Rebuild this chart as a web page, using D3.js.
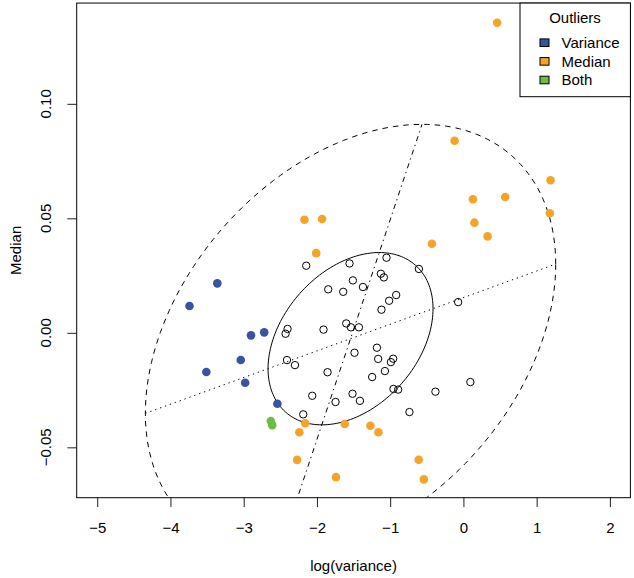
<!DOCTYPE html>
<html>
<head>
<meta charset="utf-8">
<script src="https://cdn.jsdelivr.net/npm/d3@7"></script>
<style>
  html, body { margin: 0; padding: 0; background: #fff; }
  svg { display: block; font-family: "Liberation Sans", Arial, Helvetica, sans-serif; }
</style>
</head>
<body>
<svg id="chart" width="634" height="578"></svg>
<script>
// ---------------- data ----------------
const varianceX = [-3.36, -3.74, -2.72, -2.90, -3.04, -3.51, -2.98, -2.54];
const varianceY = [0.0216, 0.0117, 0.0002, -0.0011, -0.0119, -0.0171, -0.0218, -0.0310];

const medianX = [-2.16, -2.24, -1.62, -1.27, -1.16, -2.27, -0.61, -1.74, -0.54,
                 -0.12, 1.19, 0.57, 0.13, -2.17, -1.93, 1.18, 0.15, 0.33, -2.01, -0.43, 0.46];
const medianY = [-0.0395, -0.0434, -0.0398, -0.0406, -0.0434, -0.0555, -0.0554, -0.0630, -0.0640,
                 0.0839, 0.0666, 0.0593, 0.0583, 0.0494, 0.0497, 0.0522, 0.0481, 0.0421, 0.0348, 0.0389, 0.1354];

const bothX = [-2.63, -2.61];
const bothY = [-0.0385, -0.0403];

const normalX = [-2.146, -1.555, -1.050, -0.608, -1.127, -1.086, -1.509, -1.846, -1.641, -1.372,
                 -0.918, -1.014, -1.119, -2.401, -2.428, -1.910, -1.600, -1.536, -1.427, -1.181,
                 -1.487, -1.164, -0.959, -0.990, -2.409, -2.300, -1.072, -1.855, -1.246, -0.955,
                 -0.891, -0.382, -1.514, -2.064, -1.413, -1.746, -0.737, -2.187, -0.072, 0.095];
const normalY = [0.0293, 0.0303, 0.0328, 0.0279, 0.0258, 0.0242, 0.0229, 0.0190, 0.0179, 0.0200,
                 0.0165, 0.0140, 0.0101, 0.0017, -0.0004, 0.0014, 0.0041, 0.0024, 0.0024, -0.0065,
                 -0.0087, -0.0114, -0.0113, -0.0128, -0.0119, -0.0141, -0.0167, -0.0172, -0.0193, -0.0245,
                 -0.0248, -0.0257, -0.0266, -0.0275, -0.0297, -0.0302, -0.0346, -0.0356, 0.0134, -0.0215];

// concentration ellipse: centre, sd's, correlation, inner/outer size
const ellipseCenter = [-1.541, -0.00256];
const ellipseSD = [2.8015, 0.0936];
const ellipseRho = 0.3483;
const ellipseSizes = [0.402, 1.0];

const xTicks = [-5, -4, -3, -2, -1, 0, 1, 2];
const yTicks = [-0.05, 0, 0.05, 0.10];
const legendLabels = ["Variance", "Median", "Both"];
const legendColors = ["#3953a3", "#f6a328", "#6bbd46"];

// ---------------- layout ----------------
const svg = d3.select("#chart");
const L = 76.7, R = 630.4, T = 3.06, B = 497.7;
const x = d3.scaleLinear().domain([-5.28, 2.28]).range([L, R]);
const y = d3.scaleLinear().domain([-0.072, 0.144]).range([B, T]);
const fmtMinus = s => s.replace("-", "\u2212");

svg.append("defs").append("clipPath").attr("id", "clip")
  .append("rect").attr("x", L).attr("y", T).attr("width", R - L).attr("height", B - T);

// axes
const xAxis = d3.axisBottom(x).tickValues(xTicks).tickSize(9.35).tickPadding(15.5)
  .tickFormat(d => fmtMinus(d3.format("d")(d)));
const gx = svg.append("g").attr("transform", `translate(0,${B})`).call(xAxis);
gx.select(".domain").remove();
gx.selectAll("line").attr("stroke", "#222");
gx.selectAll("text").attr("font-size", 15).attr("fill", "#000")
  .attr("font-family", "Liberation Sans, Arial, sans-serif");

const yAxis = d3.axisLeft(y).tickValues(yTicks).tickSize(9.35).tickFormat("");
const gy = svg.append("g").attr("transform", `translate(${L},0)`).call(yAxis);
gy.select(".domain").remove();
gy.selectAll("line").attr("stroke", "#222");
svg.append("g").selectAll("text").data(yTicks).join("text")
  .attr("transform", d => `translate(51,${y(d)}) rotate(-90)`)
  .attr("text-anchor", "middle").attr("font-size", 15)
  .text(d => fmtMinus(d3.format(".2f")(d)));

// axis titles
svg.append("text").attr("x", (L + R) / 2).attr("y", 571).attr("text-anchor", "middle")
  .attr("font-size", 15).text("log(variance)");
svg.append("text").attr("transform", `translate(21,${(T + B) / 2}) rotate(-90)`)
  .attr("text-anchor", "middle").attr("font-size", 15).text("Median");

// ellipses & regression lines
const ge = svg.append("g").attr("clip-path", "url(#clip)");
const line = d3.line().x(d => x(d[0])).y(d => y(d[1]));
const sq = Math.sqrt(1 - ellipseRho * ellipseRho);
const ts = d3.range(0, 361, 2).map(a => a * Math.PI / 180);
ellipseSizes.forEach((k, i) => {
  const pts = ts.map(t => [
    ellipseCenter[0] + k * ellipseSD[0] * Math.cos(t),
    ellipseCenter[1] + k * ellipseSD[1] * (ellipseRho * Math.cos(t) + sq * Math.sin(t))
  ]);
  ge.append("path").attr("d", line(pts)).attr("fill", "none").attr("stroke", "#000")
    .attr("stroke-width", 1).attr("stroke-dasharray", i === 1 ? "5.5,5" : null);
});
const vA = [ellipseSD[0], ellipseSD[1] * ellipseRho];
const hA = [ellipseSD[0] * ellipseRho, ellipseSD[1]];
ge.append("path").attr("d", line([[ellipseCenter[0] - vA[0], ellipseCenter[1] - vA[1]],
                                  [ellipseCenter[0] + vA[0], ellipseCenter[1] + vA[1]]]))
  .attr("stroke", "#000").attr("stroke-width", 1).attr("stroke-dasharray", "1.3,3.9");
ge.append("path").attr("d", line([[ellipseCenter[0] - hA[0], ellipseCenter[1] - hA[1]],
                                  [ellipseCenter[0] + hA[0], ellipseCenter[1] + hA[1]]]))
  .attr("stroke", "#000").attr("stroke-width", 1).attr("stroke-dasharray", "1.3,3.9,5.2,3.9");

// points
const zipXY = (xs, ys) => xs.map((v, i) => [v, ys[i]]);
svg.append("g").selectAll("circle").data(zipXY(normalX, normalY)).join("circle")
  .attr("cx", d => x(d[0])).attr("cy", d => y(d[1])).attr("r", 3.7)
  .attr("fill", "none").attr("stroke", "#000").attr("stroke-width", 1);
[[varianceX, varianceY, 0], [medianX, medianY, 1], [bothX, bothY, 2]].forEach(([xs, ys, c]) => {
  svg.append("g").selectAll("circle").data(zipXY(xs, ys)).join("circle")
    .attr("cx", d => x(d[0])).attr("cy", d => y(d[1])).attr("r", 4.3)
    .attr("fill", legendColors[c]);
});

// box
svg.append("rect").attr("x", L).attr("y", T).attr("width", R - L).attr("height", B - T)
  .attr("fill", "none").attr("stroke", "#000").attr("stroke-width", 1);

// legend
const lg = svg.append("g");
lg.append("rect").attr("x", 520).attr("y", T).attr("width", R - 520).attr("height", 96.7 - T)
  .attr("fill", "#fff").attr("stroke", "#000").attr("stroke-width", 1);
lg.append("text").attr("x", 575).attr("y", 22.8).attr("text-anchor", "middle")
  .attr("font-size", 15).text("Outliers");
legendLabels.forEach((lab, i) => {
  const cy = 42.7 + i * 18.65;
  lg.append("rect").attr("x", 540).attr("y", cy - 3.8).attr("width", 9).attr("height", 7.6)
    .attr("fill", legendColors[i]).attr("stroke", "#000").attr("stroke-width", 1);
  lg.append("text").attr("x", 561.5).attr("y", cy + 5.4).attr("font-size", 15).text(lab);
});
</script>
</body>
</html>
